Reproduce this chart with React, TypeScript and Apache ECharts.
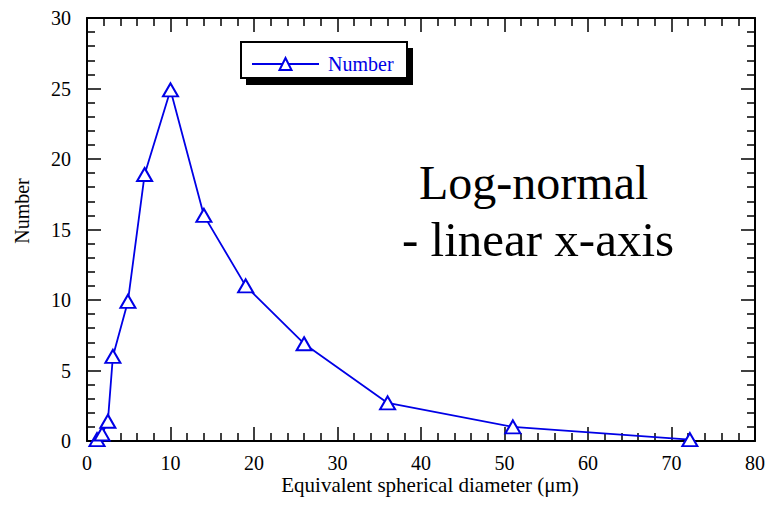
import React, { useEffect, useRef } from "react";
import * as echarts from "echarts";

const diameters = [1.2, 1.8, 2.5, 3.1, 4.9, 6.9, 10, 14, 19, 26, 36, 51, 72.2];
const counts = [0.1, 0.5, 1.4, 6, 9.9, 18.9, 24.9, 16, 11, 6.9, 2.7, 1.0, 0.1];
const seriesName = "Number";
const xTitle = "Equivalent spherical diameter (\u03bcm)";
const yTitle = "Number";
const noteLines = ["Log-normal", "- linear x-axis"];

const FONT = "Liberation Serif";
const BLUE = "#0000e6";

export default function App() {
  const ref = useRef<HTMLDivElement>(null);
  useEffect(() => {
    if (!ref.current) return;
    const chart = echarts.init(ref.current, undefined, { renderer: "svg" });
    const axisCommon = {
      type: "value" as const,
      splitLine: { show: false },
      axisLine: { show: true, onZero: false, lineStyle: { color: "#000", width: 2 } },
      axisTick: { show: true, inside: true, length: 14, lineStyle: { color: "#000", width: 1.5 } },
      minorTick: { show: true, splitNumber: 5, length: 8, lineStyle: { color: "#000", width: 1.5 } },
      minorSplitLine: { show: false },
    };
    const labelStyle = { fontFamily: FONT, fontSize: 20, color: "#000" };
    const txt = (text: string, size: number, align: string) => ({
      text,
      fontFamily: FONT,
      fontSize: size,
      fill: "#000",
      verticalAlign: "middle",
      align,
    });
    chart.setOption({
      animation: false,
      backgroundColor: "#fff",
      grid: { left: 87, right: 14, top: 18, bottom: 64 },
      xAxis: [
        { ...axisCommon, min: 0, max: 80, interval: 10, position: "bottom", axisLabel: { ...labelStyle, margin: 12 } },
        { ...axisCommon, min: 0, max: 80, interval: 10, position: "top", axisLabel: { show: false } },
      ],
      yAxis: [
        { ...axisCommon, min: 0, max: 30, interval: 5, position: "left", axisLabel: { ...labelStyle, margin: 16 } },
        { ...axisCommon, min: 0, max: 30, interval: 5, position: "right", axisLabel: { show: false } },
      ],
      legend: {
        left: 246,
        top: 49,
        itemWidth: 67,
        itemHeight: 15,
        textStyle: { fontFamily: FONT, fontSize: 20, color: BLUE, padding: [0, 0, 0, 4] },
        data: [seriesName],
        z: 10,
      },
      graphic: [
        { type: "rect", z: 1, shape: { x: 246, y: 48, width: 167, height: 37 }, style: { fill: "#000" } },
        { type: "rect", z: 2, shape: { x: 241, y: 42, width: 166, height: 36 }, style: { fill: "#fff", stroke: "#000", lineWidth: 2 } },
        { type: "text", z: 5, x: 419, y: 182, style: txt(noteLines[0], 48, "left") },
        { type: "text", z: 5, x: 402, y: 239, style: txt(noteLines[1], 49, "left") },
        { type: "text", z: 5, x: 430, y: 485, style: txt(xTitle, 21, "center") },
        { type: "text", z: 5, x: 22, y: 211, rotation: Math.PI / 2, style: txt(yTitle, 20, "center") },
      ],
      series: [
        {
          name: seriesName,
          type: "line",
          xAxisIndex: 0,
          yAxisIndex: 0,
          data: diameters.map((d, i) => [d, counts[i]]),
          symbol: "triangle",
          symbolSize: [15, 13],
          showAllSymbol: true,
          lineStyle: { color: BLUE, width: 1.8 },
          itemStyle: { color: "#fff", borderColor: BLUE, borderWidth: 2 },
          z: 5,
        },
      ],
    });
    return () => chart.dispose();
  }, []);
  return <div ref={ref} style={{ width: 769, height: 505, position: "absolute", left: 0, top: 0 }} />;
}
